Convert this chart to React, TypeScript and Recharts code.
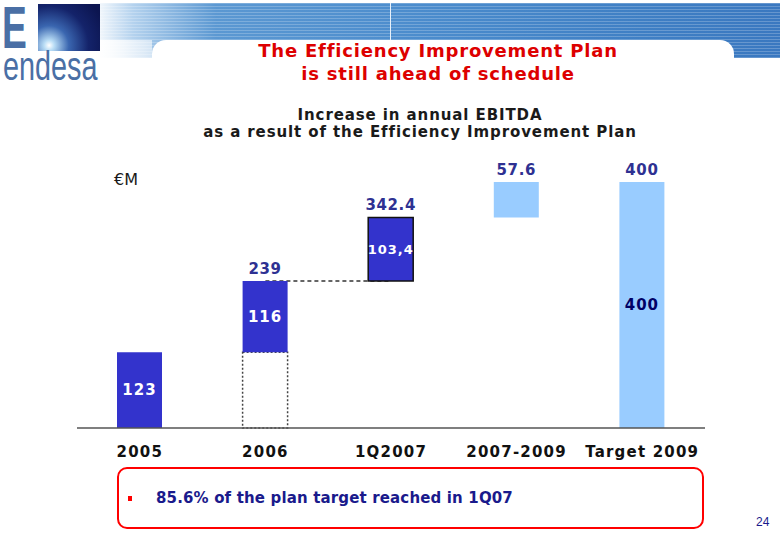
import React from 'react';
import { BarChart, Bar, XAxis, YAxis, Cell, LabelList, ReferenceLine } from 'recharts';

const categories = ['2005', '2006', '1Q2007', '2007-2009', 'Target 2009'];
const baseValues = [0, 123, 239, 342.4, 0];
const stepValues = [123, 116, 103.4, 57.6, 400];
const topLabels = ['', '239', '342.4', '57.6', '400'];
const innerLabels = ['123', '116', '103,4', '', '400'];

const DARK = '#3333cc';
const LIGHT = '#99ccff';
const NAVY = '#2e3192';

const data = categories.map((name, i) => ({
  name,
  base: baseValues[i],
  step: stepValues[i],
  top: topLabels[i],
  inner: innerLabels[i],
}));

const stepFill = (i: number) => (i >= 3 ? LIGHT : DARK);

const font = 'Verdana, "DejaVu Sans", sans-serif';
const logoFont = '"Liberation Sans", Arial, sans-serif';

const stripes =
  'repeating-linear-gradient(180deg, rgba(255,255,255,0.22) 0px, rgba(255,255,255,0.22) 1px, transparent 1px, transparent 3px)';

const Header = () => (
  <div style={{ position: 'absolute', left: 0, top: 0, width: 780, height: 90 }}>
    <div
      style={{
        position: 'absolute',
        left: 92,
        top: 3,
        width: 688,
        height: 55,
        background: `${stripes}, linear-gradient(90deg, #ffffff 0%, #b4d2ee 6%, #5b98d2 18%, #4a8bcc 50%, #3f7fc4 80%, #3a78c0 100%)`,
      }}
    />
    <div
      style={{
        position: 'absolute',
        left: 92,
        top: 40,
        width: 60,
        height: 18,
        background: 'linear-gradient(90deg, rgba(255,255,255,1) 0%, rgba(255,255,255,0.55) 100%)',
      }}
    />
    <div
      style={{
        position: 'absolute',
        left: 152,
        top: 40,
        width: 582,
        height: 60,
        background: '#ffffff',
        borderTopLeftRadius: 14,
        borderTopRightRadius: 14,
      }}
    />
    <div style={{ position: 'absolute', left: 390, top: 3, width: 1, height: 37, background: '#e8f1fa' }} />
    {/* logo */}
    <div
      style={{
        position: 'absolute',
        left: 2,
        top: 4,
        fontFamily: logoFont,
        fontWeight: 'bold',
        fontSize: 60,
        lineHeight: '48px',
        color: '#4a6fa5',
        transform: 'scaleX(0.62)',
        transformOrigin: 'left',
      }}
    >
      E
    </div>
    <div
      style={{
        position: 'absolute',
        left: 38,
        top: 4,
        width: 62,
        height: 47,
        background: 'radial-gradient(circle at 18% 88%, #ffffff 0%, #b8dcf5 8%, #3a66b0 30%, #14236a 60%, #0c1550 90%)',
      }}
    />
    <div
      style={{
        position: 'absolute',
        left: 3,
        top: 52,
        fontFamily: logoFont,
        fontSize: 40,
        color: '#4a6fa5',
        lineHeight: '28px',
        transform: 'scaleX(0.72)',
        transformOrigin: 'left',
      }}
    >
      endesa
    </div>
    <div
      style={{
        position: 'absolute',
        left: 188,
        top: 39,
        width: 500,
        textAlign: 'center',
        fontFamily: font,
        fontWeight: 'bold',
        fontSize: 18,
        letterSpacing: 0.8,
        lineHeight: '23px',
        color: '#dd0000',
      }}
    >
      The Efficiency Improvement Plan
      <br />
      is still ahead of schedule
    </div>
  </div>
);

export default function App() {
  return (
    <div style={{ position: 'absolute', left: 0, top: 0, width: 780, height: 540, background: '#ffffff', overflow: 'hidden' }}>
      <Header />
      <div
        style={{
          position: 'absolute',
          left: 170,
          top: 107,
          width: 500,
          textAlign: 'center',
          fontFamily: font,
          fontWeight: 'bold',
          fontSize: 15,
          letterSpacing: 0.9,
          lineHeight: '17px',
          color: '#1a1a1a',
        }}
      >
        Increase in annual EBITDA
        <br />
        as a result of the Efficiency Improvement Plan
      </div>
      <div style={{ position: 'absolute', left: 114, top: 170, fontFamily: font, fontSize: 16, color: '#1a1a1a' }}>€M</div>
      <div style={{ position: 'absolute', left: 0, top: 0 }}>
        <BarChart
          width={780}
          height={540}
          data={data}
          margin={{ top: 182, right: 75, left: 77, bottom: 82 }}
          barSize={45}
        >
          <YAxis hide domain={[0, 400]} />
          <XAxis
            dataKey="name"
            tickLine={false}
            axisLine={{ stroke: '#555555', strokeWidth: 1.5 }}
            tickMargin={12}
            tick={{ fill: '#111111', fontSize: 15, fontWeight: 'bold', fontFamily: font, letterSpacing: 1.2 }}
          />
          <ReferenceLine
            segment={[{ x: '2006', y: 239 }, { x: '1Q2007', y: 239 }]}
            stroke="#333333"
            strokeDasharray="4 3"
            strokeWidth={1.5}
            zIndex={100}
          />
          <Bar dataKey="base" stackId="w" isAnimationActive={false}>
            {data.map((d, i) => (
              <Cell
                key={`b-${i}`}
                fill="none"
                stroke={i === 1 ? '#444444' : 'none'}
                strokeDasharray="2 2"
                strokeWidth={1.5}
              />
            ))}
          </Bar>
          <Bar dataKey="step" stackId="w" isAnimationActive={false}>
            {data.map((d, i) => (
              <Cell
                key={`s-${i}`}
                fill={stepFill(i)}
                stroke={i === 2 ? '#111111' : 'none'}
                strokeWidth={1.5}
              />
            ))}
            <LabelList
              dataKey="top"
              position="top"
              offset={7}
              fill={NAVY}
              fontSize={15}
              fontWeight="bold"
              fontFamily={font}
              letterSpacing={0.6}
            />
            <LabelList dataKey="inner" content={(props: any) => {
              const { x, y, width, height, value, index } = props;
              if (!value) return null;
              return (
                <text
                  x={Number(x) + Number(width) / 2}
                  y={Number(y) + Number(height) / 2}
                  textAnchor="middle"
                  dominantBaseline="central"
                  fill={index === 4 ? '#000066' : '#ffffff'}
                  fontSize={index === 2 ? 13 : 15}
                  fontWeight="bold"
                  fontFamily={font}
                  letterSpacing={1}
                >
                  {value}
                </text>
              );
            }} />
          </Bar>
        </BarChart>
      </div>
      <div
        style={{
          position: 'absolute',
          left: 117,
          top: 467,
          width: 583,
          height: 58,
          border: '2px solid #ff0000',
          borderRadius: 10,
          boxSizing: 'content-box',
        }}
      />
      <div style={{ position: 'absolute', left: 128, top: 496, width: 4, height: 5, background: '#ff0000' }} />
      <div
        style={{
          position: 'absolute',
          left: 156,
          top: 489,
          fontFamily: font,
          fontWeight: 'bold',
          fontSize: 15,
          letterSpacing: 0.15,
          color: '#1a1a8c',
        }}
      >
        85.6% of the plan target reached in 1Q07
      </div>
      <div style={{ position: 'absolute', left: 756, top: 515, fontFamily: '"Liberation Sans", Arial, sans-serif', fontSize: 12, color: '#1a1a8c' }}>24</div>
    </div>
  );
}
